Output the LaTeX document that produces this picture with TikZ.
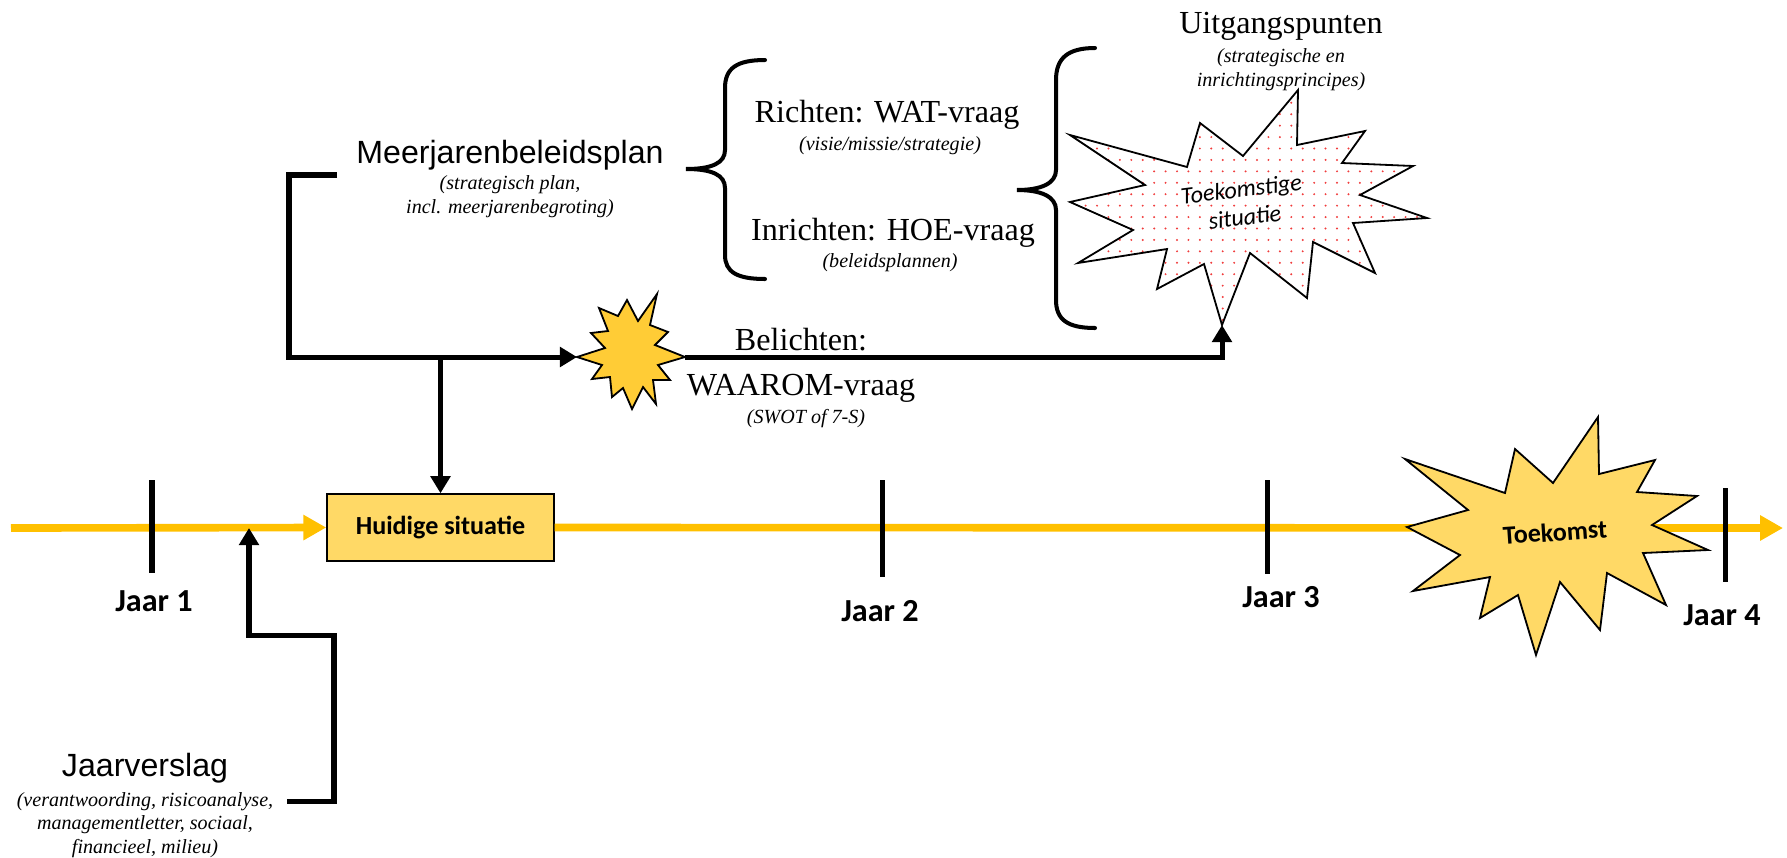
\documentclass[tikz,border=0pt]{standalone}
\usepackage{fontspec}
\setmainfont{Liberation Serif}
\newfontfamily\arialfont{Liberation Sans}
\newfontfamily\calibrifont{Carlito}
\usetikzlibrary{arrows.meta, patterns.meta}

\definecolor{timeyellow}{HTML}{FFC000}
\definecolor{boxgold}{HTML}{FFD966}
\definecolor{stargold}{HTML}{FFCC36}
\definecolor{dotred}{HTML}{F03C3C}

\begin{document}
\begin{tikzpicture}[
        x=0.0175cm, y=-0.0175cm,
        timeline/.style={-{Triangle[length=0.4cm, width=0.42cm]}, draw=timeyellow, line width=3.8pt},
        tick/.style={line width=2.5pt},
        flow/.style={-{Triangle[length=0.3cm, width=0.34cm]}, line width=2.5pt},
        bracket/.style={line width=2pt, line cap=round},
        burst/.style={draw=black, line width=0.9pt},
        yearlabel/.style={font=\calibrifont\bfseries\fontsize{16}{19}\selectfont},
        title/.style={anchor=base, font=\fontsize{16}{19}\selectfont},
        sanstitle/.style={anchor=base, font=\arialfont\fontsize{16}{19}\selectfont},
        subtitle/.style={align=center, font=\itshape\fontsize{10}{11.8}\selectfont},
    ]
        \useasboundingbox (0,0) rectangle (1787,857);

        % timeline
        \coordinate (tl_start) at (11,528);
        \coordinate (tl_end) at (1783,528);
        \coordinate (jv_in) at (249,528);
        \node[draw, fill=boxgold, line width=0.8pt, minimum width=3.97cm, minimum height=1.17cm, font=\calibrifont\bfseries\fontsize{13}{15}\selectfont] (huidige) at (440.5,527.5) {Huidige situatie};
        \draw[timeline] (tl_start) -- (huidige.west);
        \draw[timeline] (huidige.east) -- (tl_end);

        % toekomst
        \draw[burst, fill=boxgold] (1598,417) -- (1599,474) -- (1655,460) -- (1637,492) -- (1697,496) -- (1652,525) -- (1708,550) -- (1643,553) -- (1666,605) -- (1607,573) -- (1600,630) -- (1560,582) -- (1536,655) -- (1518,595) -- (1480,618) -- (1490,577) -- (1413,591) -- (1460,555) -- (1407,527) -- (1468,510) -- (1405,459) -- (1505,493) -- (1515,449) -- (1553,483) -- cycle;
        \node[rotate=4, font=\calibrifont\bfseries\fontsize{13}{15}\selectfont] (toekomst) at (1555,532) {Toekomst};

        % jaren
        \draw[tick] (152,480) -- (152,573);
        \draw[tick] (882,480) -- (882,577);
        \draw[tick] (1267,480) -- (1267,574);
        \draw[tick] (1725,488) -- (1725,582);
        \node[yearlabel] (jaar1) at (154,601) {Jaar 1};
        \node[yearlabel] (jaar2) at (880,611) {Jaar 2};
        \node[yearlabel] (jaar3) at (1281,597) {Jaar 3};
        \node[yearlabel] (jaar4) at (1722,615) {Jaar 4};

        % jaarverslag
        \node[sanstitle] (jv) at (145,776) {Jaarverslag};
        \node[subtitle] (jvsub) at (145,825) {(verantwoording, risicoanalyse,\\managementletter, sociaal,\\financieel, milieu)};
        \coordinate (jv_out) at (287,801);
        \draw[flow] (jv_out) -| (334,635) -| (jv_in);

        % meerjarenbeleidsplan
        \node[sanstitle] (mjp) at (510,163) {Meerjarenbeleidsplan};
        \node[subtitle] (mjpsub) at (510,197) {(strategisch plan,\\incl. meerjarenbegroting)};
        \coordinate (mjp_out) at (337,175);

        % belichten
        \draw[burst, fill=stargold] (577,357) -- (605,348) -- (591,333) -- (608,331) -- (599,308) -- (618,316) -- (627,300) -- (638,321) -- (657,294) -- (650,325) -- (668,332) -- (655,345) -- (685,357) -- (658,365) -- (670,380) -- (653,380) -- (656,404) -- (643,387) -- (632,409) -- (623,388) -- (612,397) -- (610,377) -- (592,379) -- (602,365) -- cycle;
        \coordinate (sb_l) at (577,357);
        \coordinate (sb_r) at (685,357);
        \draw[flow] (mjp_out) -- (289,175) |- (sb_l);
        \draw[flow] (huidige.north |- sb_l) -- (huidige.north);
        \node[align=center, font=\fontsize{16}{22.3}\selectfont] (belichten) at (801,365) {Belichten:\\WAAROM-vraag};
        \node[subtitle] (belichtensub) at (806,419) {(SWOT of 7-S)};

        % richten en inrichten
        \draw[bracket] (765,60) .. controls (737,60) and (725,68) .. (725,88) -- (725,150) .. controls (725,163) and (712,169) .. (686,169) .. controls (712,169) and (725,175) .. (725,188) -- (725,255) .. controls (725,272) and (737,279) .. (765,279);
        \node[title] (richten) at (887,122) {Richten: WAT-vraag};
        \node[subtitle] (richtensub) at (890,146) {(visie/missie/strategie)};
        \node[title] (inrichten) at (893,240) {Inrichten: HOE-vraag};
        \node[subtitle] (inrichtensub) at (890,263) {(beleidsplannen)};

        % uitgangspunten
        \draw[bracket] (1095,48) .. controls (1068,48) and (1056,58) .. (1056,80) -- (1056,170) .. controls (1056,183) and (1042,190) .. (1017,190) .. controls (1042,190) and (1056,197) .. (1056,210) -- (1056,300) .. controls (1056,320) and (1068,328) .. (1095,328);
        \node[title] (uitgang) at (1281,33) {Uitgangspunten};
        \node[subtitle] (uitgangsub) at (1281,70) {(strategische en\\inrichtingsprincipes)};
        \draw[burst, pattern={Dots[distance=0.2cm, radius=0.55pt]}, pattern color=dotred] (1298,90) -- (1297,145) -- (1365,131) -- (1342,163) -- (1413,166) -- (1360,195) -- (1427,218) -- (1353,223) -- (1375,273) -- (1313,242) -- (1307,298) -- (1250,253) -- (1222,325) -- (1204,264) -- (1157,289) -- (1167,249) -- (1078,263) -- (1133,230) -- (1070,202) -- (1145,185) -- (1070,135) -- (1187,167) -- (1200,123) -- (1243,156) -- cycle;
        \coordinate (ts_b) at (1222,325);
        \node[align=center, rotate=7, font=\calibrifont\itshape\fontsize{12}{14}\selectfont] (toekomstig) at (1243,203) {Toekomstige\\situatie};
        \draw[flow] (sb_r) -| (ts_b);
    \end{tikzpicture}
\end{document}
